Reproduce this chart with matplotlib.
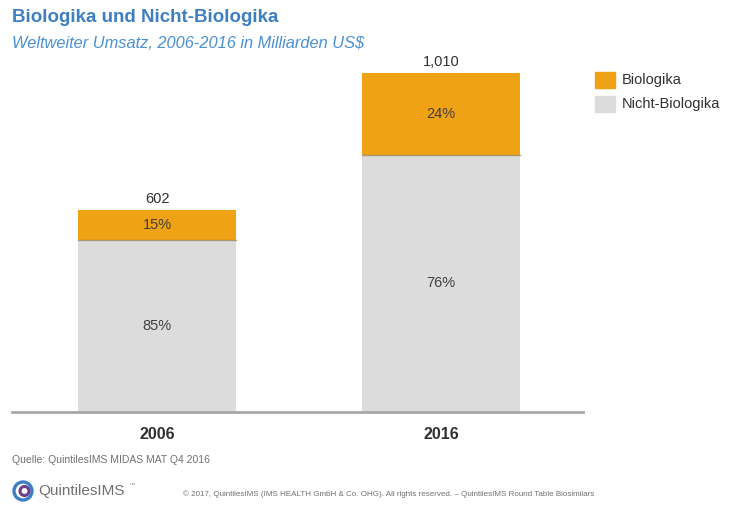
import matplotlib
matplotlib.use("Agg")
import matplotlib.pyplot as plt
from matplotlib.patches import Rectangle, Ellipse
import numpy as np

plt.rcParams["font.family"] = ["Liberation Sans", "DejaVu Sans"]

years = ["2006", "2016"]
totals = [602, 1010]          # Mrd. US$
bio_share = [15, 24]          # %
nonbio_share = [85, 76]       # %
total_labels = ["602", "1,010"]

ORANGE = "#EFA314"
GRAY = "#DCDCDC"
BLUE = "#3E7FC1"
TEXT = "#404040"

bio = [t * s / 100 for t, s in zip(totals, bio_share)]
nonbio = [t * s / 100 for t, s in zip(totals, nonbio_share)]

W, H = 731, 512
fig = plt.figure(figsize=(W / 100, H / 100), dpi=100)
fig.patch.set_facecolor("white")
ax = fig.add_axes([12 / W, 100 / H, 571 / W, 369 / H])

x = np.arange(len(years))
w = 0.556
ax.bar(x, nonbio, width=w, color=GRAY, zorder=2)
ax.bar(x, bio, width=w, bottom=nonbio, color=ORANGE, zorder=2)
# thin dark seam between the two segments
for xi, nb in zip(x, nonbio):
    ax.plot([xi - w / 2, xi + w / 2], [nb, nb], color="#8a6a30", lw=1.0, alpha=0.6, zorder=3)

for xi, nb, b, sb, sn, tl in zip(x, nonbio, bio, bio_share, nonbio_share, total_labels):
    ax.text(xi, nb / 2, f"{sn}%", ha="center", va="center", fontsize=10.5, color=TEXT)
    ax.text(xi, nb + b / 2, f"{sb}%", ha="center", va="center", fontsize=10.5, color=TEXT)
    ax.text(xi, nb + b + 12, tl, ha="center", va="bottom", fontsize=10.5, color="#303030")

ax.set_xlim(-0.511, 1.5)
ax.set_ylim(0, 1100)
ax.set_xticks(x)
ax.set_xticklabels(years, fontsize=11.5, fontweight="bold", color="#303030")
ax.tick_params(axis="x", length=0, pad=11)
ax.set_yticks([])
for side in ("top", "right", "left"):
    ax.spines[side].set_visible(False)
ax.spines["bottom"].set_color("#A8A8A8")
ax.spines["bottom"].set_linewidth(2)

# legend drawn by hand at the right
leg = [(ORANGE, "Biologika", 80), (GRAY, "Nicht-Biologika", 104)]
for col, lab, yp in leg:
    fig.patches.append(Rectangle((595 / W, 1 - (yp + 8) / H), 20 / W, 16 / H,
                                 transform=fig.transFigure, color=col))
    fig.text(622 / W, 1 - yp / H, lab, fontsize=10.5, color="#303030", va="center")

fig.text(12 / W, 1 - 18 / H, "Biologika und Nicht-Biologika", fontsize=13.5,
         fontweight="bold", color=BLUE, va="center")
fig.text(12 / W, 1 - 43 / H, "Weltweiter Umsatz, 2006-2016 in Milliarden US$",
         fontsize=11.8, style="italic", color="#4A90D4", va="center")

fig.text(12 / W, 1 - 460 / H, "Quelle: QuintilesIMS MIDAS MAT Q4 2016",
         fontsize=7.5, color="#707070", va="center")

# QuintilesIMS logo
lx, ly = 23 / W, 1 - 491 / H
fig.patches.append(Ellipse((lx, ly), 18 / W, 18 / H, transform=fig.transFigure,
                           fill=False, ec="#3C7FC8", lw=2.4))
fig.patches.append(Ellipse((lx + 1.5 / W, ly), 9 / W, 9 / H, transform=fig.transFigure,
                           fill=False, ec="#6B3F8F", lw=2.2))
fig.text(38 / W, ly, "QuintilesIMS", fontsize=11, color="#707070", va="center")
fig.text(128 / W, ly + 6 / H, "™", fontsize=4.5, color="#909090", va="center")
fig.text(183 / W, 1 - 494 / H,
         "© 2017, QuintilesIMS (IMS HEALTH GmbH & Co. OHG). All rights reserved. – "
         "QuintilesIMS Round Table Biosimilars",
         fontsize=5.75, color="#707070", va="center")

fig.savefig("out.png", dpi=100, facecolor="white")
